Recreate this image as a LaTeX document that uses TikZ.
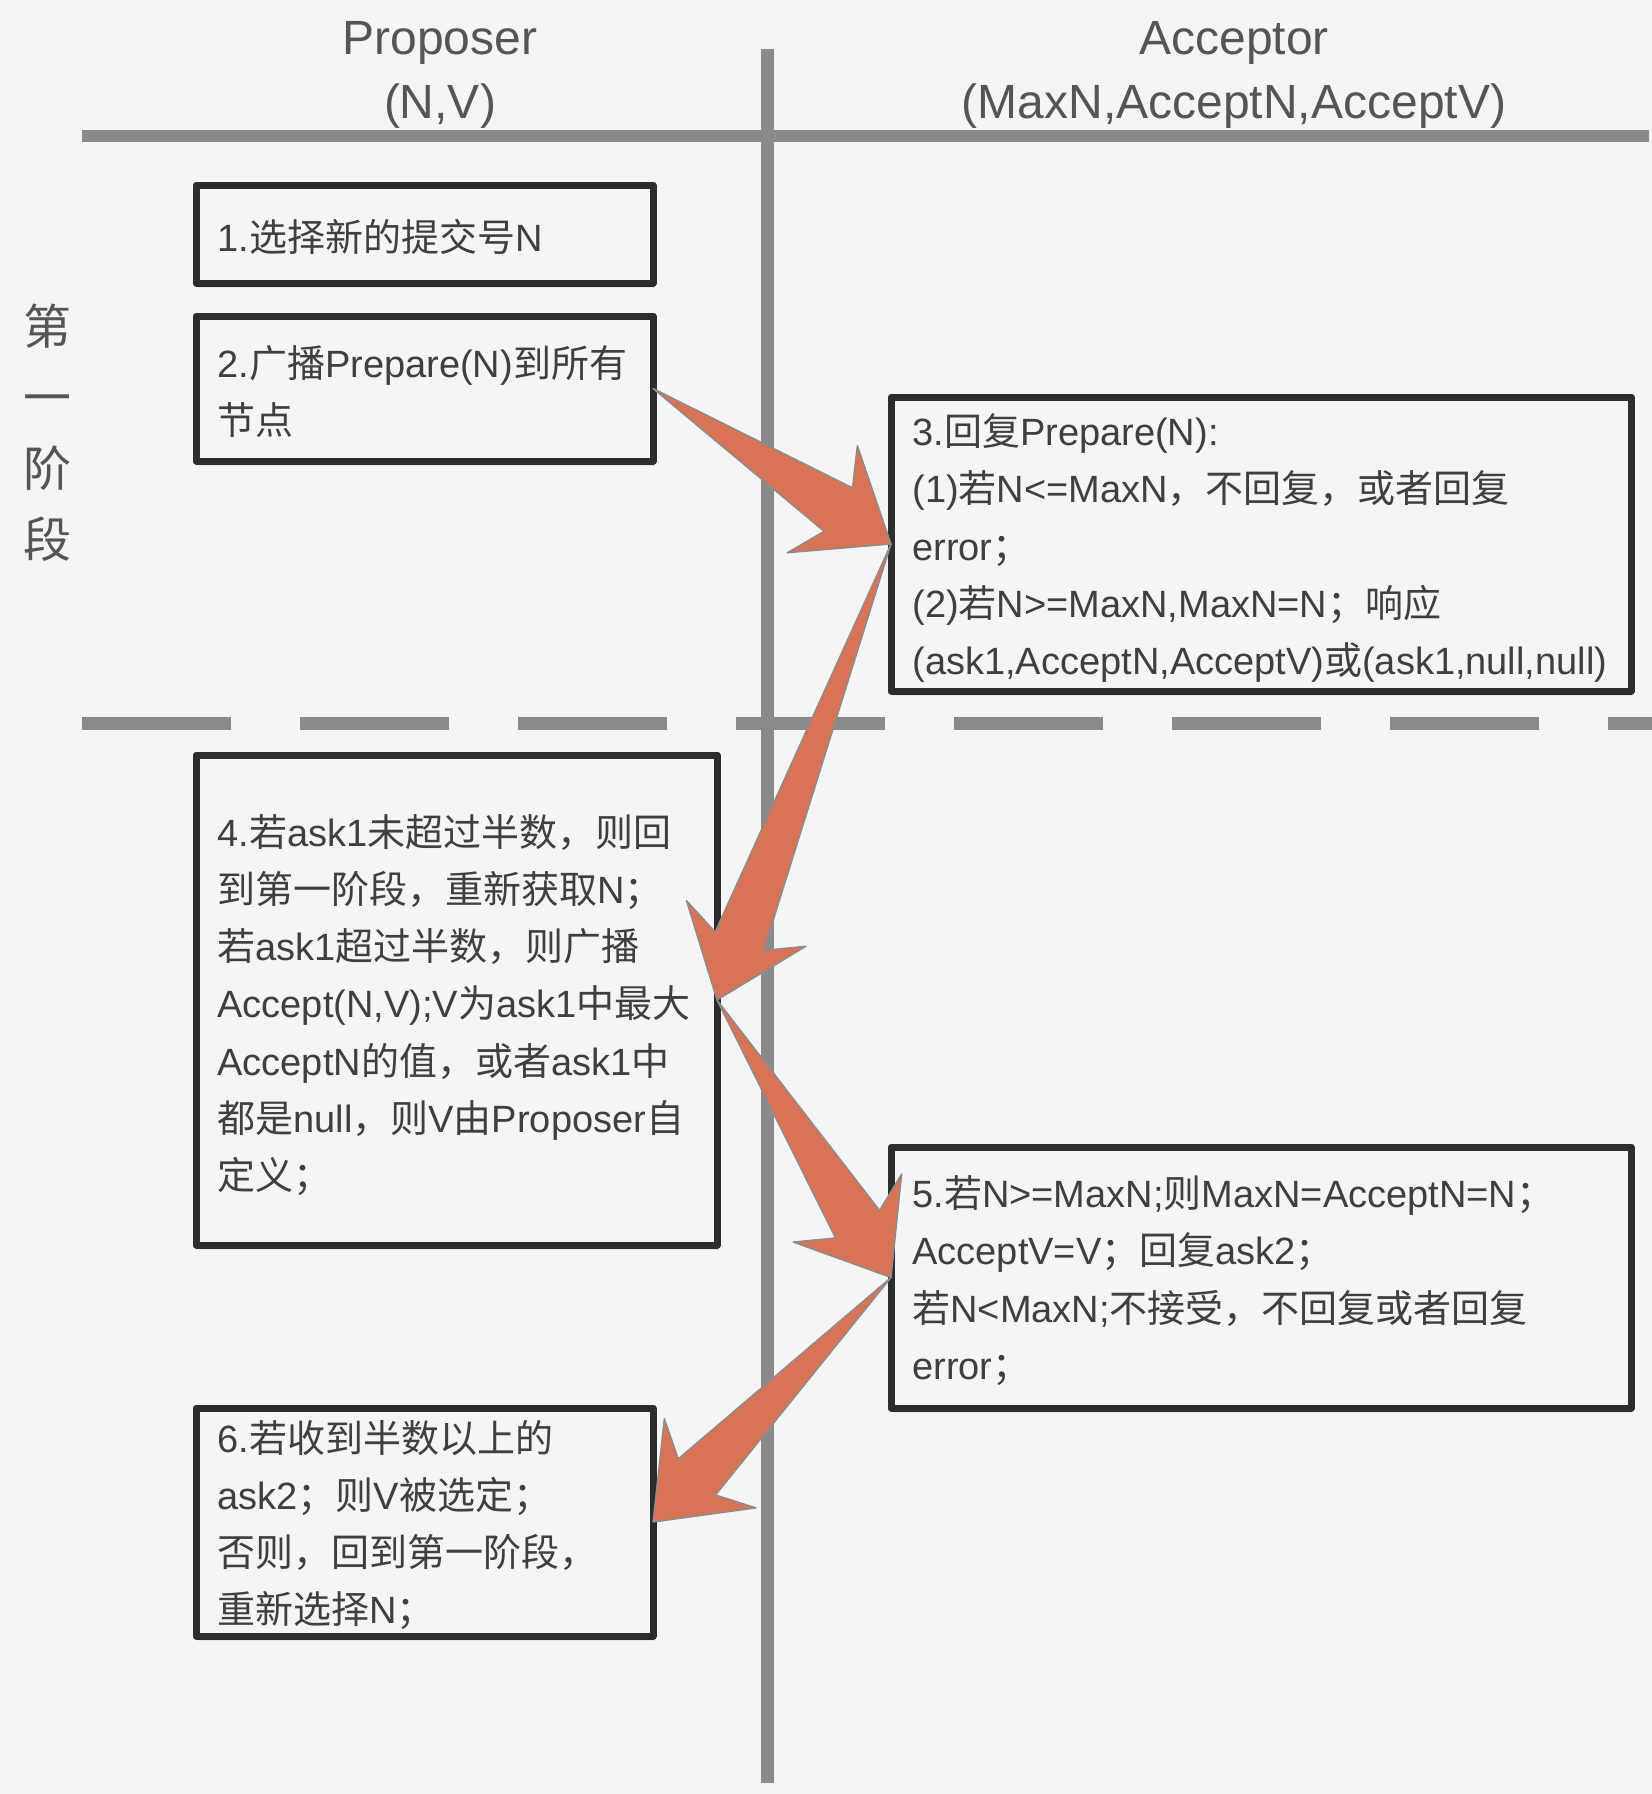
\documentclass[tikz,border=0pt]{standalone}
\usepackage{fontspec}
\setmainfont{Liberation Sans}
\newfontfamily\latinfont{Liberation Sans}
\newfontfamily\cjkfont{Noto Sans CJK SC}
\usetikzlibrary{calc,shadows}

% font switch for Chinese characters
\XeTeXinterchartokenstate=1
\newXeTeXintercharclass\cjkclass
\count255="4E00
\loop
  \XeTeXcharclass\count255=\cjkclass
  \advance\count255 by 1
\ifnum\count255<"A000 \repeat
\XeTeXcharclass"FF0C=\cjkclass
\XeTeXcharclass"FF1A=\cjkclass
\XeTeXcharclass"FF1B=\cjkclass
\XeTeXcharclass"3001=\cjkclass
\XeTeXinterchartoks 0 \cjkclass = {\cjkfont}
\XeTeXinterchartoks 4095 \cjkclass = {\cjkfont}
\XeTeXinterchartoks \cjkclass 0 = {\latinfont}
\XeTeXinterchartoks 4095 0 = {\latinfont}

\definecolor{bgcol}{HTML}{F5F5F5}
\definecolor{linegray}{HTML}{8A8A8A}
\definecolor{boxline}{HTML}{2D2D2D}
\definecolor{txtcol}{HTML}{3F3F3F}
\definecolor{headcol}{HTML}{555555}
\definecolor{arrowfill}{HTML}{D97355}
\definecolor{arrowline}{HTML}{8C8C8C}

% fat arrow from #1 to #2
\newcommand{\fatarrow}[2]{%
  \draw[fatarr] (#1)
    -- ($(#2)!31.5pt!(#1)!13pt!90:(#2)$)
    -- ($(#2)!41pt!(#1)!32pt!90:(#2)$)
    -- (#2)
    -- ($(#2)!41pt!(#1)!32pt!-90:(#2)$)
    -- ($(#2)!31.5pt!(#1)!13pt!-90:(#2)$)
    -- cycle;}

\begin{document}
\begin{tikzpicture}[x=0.5pt,y=-0.5pt,line join=round,
    lane/.style={color=linegray,line width=6.5pt,line cap=butt},
    box/.style={draw=boxline,line width=3.5pt,fill=bgcol,inner sep=0pt,outer sep=0pt,
      drop shadow={shadow xshift=1pt,shadow yshift=-2.5pt,opacity=0.12}},
    txt/.style={anchor=west,align=left,inner sep=0pt,text=txtcol,
      font=\fontsize{19}{28.6}\selectfont},
    head/.style={align=center,inner sep=0pt,text=headcol,
      font=\fontsize{24}{31.75}\selectfont},
    fatarr/.style={fill=arrowfill,draw=arrowline,line width=0.7pt}]

    \fill[bgcol] (0,0) rectangle (1652,1794);
    \useasboundingbox (0,0) rectangle (1652,1794);

    %lanes
    \draw[lane] (767,49) -- (767,1783);
    \draw[lane,line width=6pt] (82,136) -- (1649,136);
    \draw[lane,dash pattern=on 74.5pt off 34.5pt] (82,723) -- (1652,723);

    %headings
    \node[head] (prop) at (440,75) {Proposer\\(N,V)};
    \node[head] (acc) at (1234,75) {Acceptor\\(MaxN,AcceptN,AcceptV)};
    \node[head,font=\fontsize{24}{35.5}\selectfont] (stage) at (48,433) {第\\一\\阶\\段};

    %boxes
    \node[box,minimum width=228.5pt,minimum height=49pt] (b1) at (424.5,234) {};
    \node[box,minimum width=228.5pt,minimum height=72.5pt] (b2) at (424.5,388.5) {};
    \node[box,minimum width=370pt,minimum height=147pt] (b3) at (1261,544) {};
    \node[box,minimum width=260.5pt,minimum height=245pt] (b4) at (456.5,1000) {};
    \node[box,minimum width=370pt,minimum height=130.5pt] (b5) at (1261,1277.5) {};
    \node[box,minimum width=228.5pt,minimum height=114pt] (b6) at (424.5,1522) {};

    \node[txt] (t1) at ([xshift=10.5pt,yshift=-1.5pt]b1.west) {1.选择新的提交号N};
    \node[txt] (t2) at ([xshift=10.5pt,yshift=-1.5pt]b2.west) {2.广播Prepare(N)到所有\\节点};
    \node[txt] (t3) at ([xshift=10.5pt,yshift=-2pt]b3.west) {3.回复Prepare(N):\\(1)若N<=MaxN，不回复，或者回复\\error；\\(2)若N>=MaxN,MaxN=N；响应\\(ask1,AcceptN,AcceptV)或(ask1,null,null)};
    \node[txt] (t4) at ([xshift=10.5pt,yshift=-2.5pt]b4.west) {4.若ask1未超过半数，则回\\到第一阶段，重新获取N；\\若ask1超过半数，则广播\\Accept(N,V);V为ask1中最大\\AcceptN的值，或者ask1中\\都是null，则V由Proposer自\\定义；};
    \node[txt] (t5) at ([xshift=10.5pt,yshift=-1.5pt]b5.west) {5.若N>=MaxN;则MaxN=AcceptN=N；\\AcceptV=V；回复ask2；\\若N<MaxN;不接受，不回复或者回复\\error；};
    \node[txt] (t6) at ([xshift=10.5pt,yshift=-1.5pt]b6.west) {6.若收到半数以上的\\ask2；则V被选定；\\否则，回到第一阶段，\\重新选择N；};

    %arrows
    \fatarrow{b2.east}{b3.west}
    \fatarrow{b3.west}{b4.east}
    \fatarrow{b4.east}{b5.west}
    \fatarrow{b5.west}{b6.east}

\end{tikzpicture}
\end{document}
